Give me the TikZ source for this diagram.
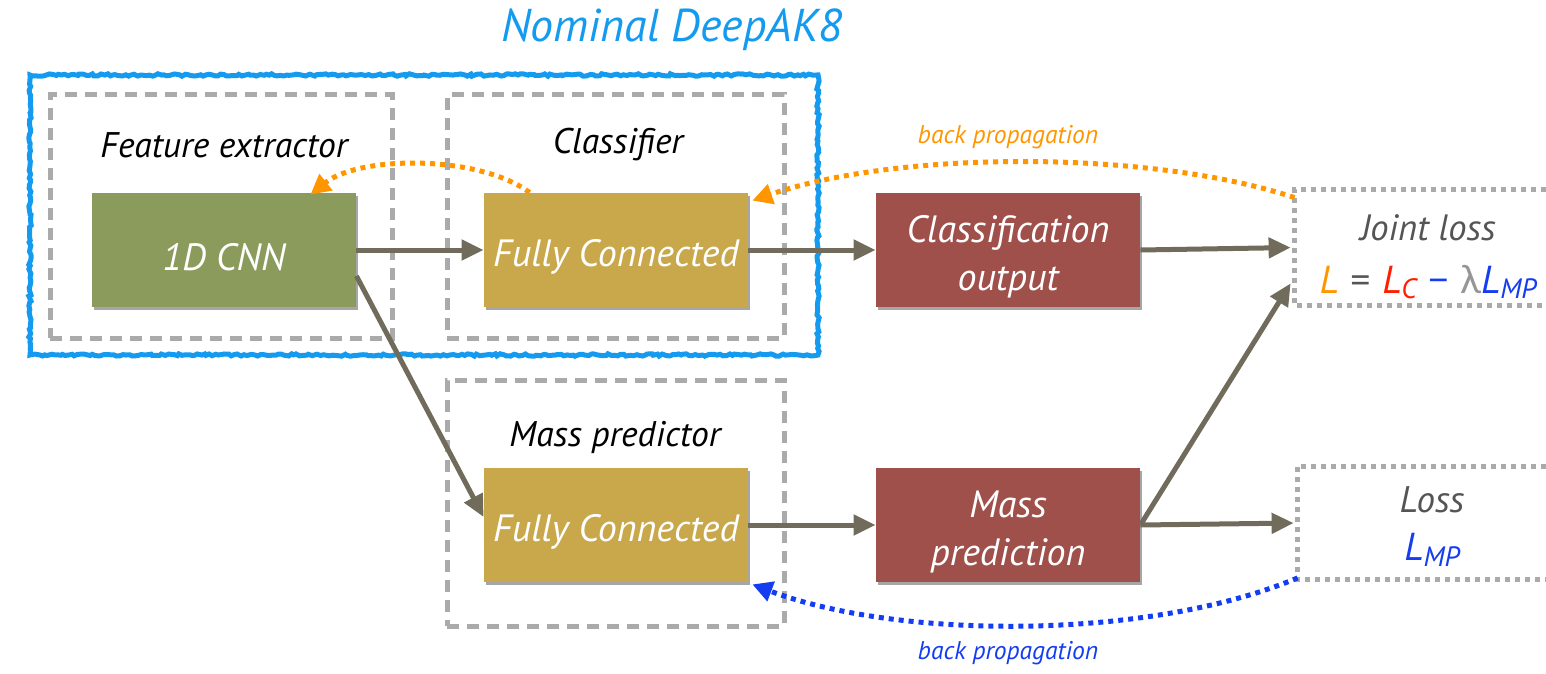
\documentclass[tikz,border=0pt]{standalone}
\usepackage{fontspec}
\setmainfont{PT Sans}
\newfontfamily\grk{Lato}
\usetikzlibrary{arrows.meta,calc,shadows,decorations.pathmorphing}
\definecolor{cnngreen}{RGB}{138,155,92}
\definecolor{fcgold}{RGB}{201,168,76}
\definecolor{outred}{RGB}{160,80,75}
\definecolor{arrowgray}{RGB}{112,107,90}
\definecolor{boxgray}{RGB}{170,170,170}
\definecolor{bporange}{RGB}{255,150,0}
\definecolor{bpblue}{RGB}{20,60,240}
\definecolor{titleblue}{RGB}{20,155,240}
\definecolor{lossred}{RGB}{255,30,0}
\definecolor{txtgray}{RGB}{85,85,85}
\definecolor{lamgray}{RGB}{150,150,150}
\newcommand{\lsub}[1]{\raisebox{-0.3ex}{\fontsize{14}{14}\selectfont #1}}
\begin{document}
\begin{tikzpicture}[x=0.5pt,y=-0.5pt,
 block/.style={minimum width=132pt,minimum height=57pt,inner sep=0pt,
   drop shadow={shadow xshift=1pt,shadow yshift=-1.5pt,opacity=0.35,fill=black}},
 blocktext/.style={text=white,font=\fontsize{19}{24}\selectfont\itshape,align=center,yshift=-3.5pt},
 grpbox/.style={draw=boxgray,line width=2.5pt,dash pattern=on 6pt off 4pt,inner sep=0pt},
 lossbox/.style={draw=boxgray,line width=2.5pt,dash pattern=on 2.5pt off 2.5pt},
 conn/.style={draw=arrowgray,line width=2.5pt,-{Triangle[length=11pt,width=10pt]}},
 bp/.style={line width=2.5pt,dash pattern=on 2.5pt off 2.5pt,-{Triangle[length=10pt,width=10pt]}},
 lbl/.style={font=\fontsize{17.8}{20}\selectfont\itshape},
 bplbl/.style={font=\fontsize{12.8}{15}\selectfont\itshape}
]
\useasboundingbox (0,0) rectangle (1546,674);

% title and nominal frame
\node[text=titleblue,font=\fontsize{23}{27}\selectfont\itshape] (title) at (672,30) {Nominal DeepAK8};
\node[draw=titleblue,line width=2.5pt,minimum width=394pt,minimum height=140pt,inner sep=0pt,
  decorate,decoration={random steps,segment length=1.5pt,amplitude=0.6pt}] (nominal) at (424,215) {};

% group boxes
\node[grpbox,minimum width=171pt,minimum height=121.5pt] (fegrp) at (221,216.5) {};
\node[grpbox,minimum width=168.5pt,minimum height=121.5pt] (clgrp) at (615.5,216.5) {};
\node[grpbox,minimum width=168.5pt,minimum height=123pt] (mpgrp) at (615.5,503) {};

\node[lbl] (fetext) at (224,145) {Feature extractor};
\node[lbl] (cltext) at (618,145) {Classifier};
\node[lbl] (mptext) at (615,437) {Mass predictor};

% blocks
\node[block,fill=cnngreen] (cnn) at (224,250) {};
\node[block,fill=fcgold] (fc1) at (616,250) {};
\node[block,fill=outred] (cout) at (1008,250) {};
\node[block,fill=fcgold] (fc2) at (616,525) {};
\node[block,fill=outred] (mpred) at (1008,525) {};
\node[blocktext] (cnnt) at (cnn) {1D CNN};
\node[blocktext] (fc1t) at (fc1) {Fully Connected};
\node[blocktext] (coutt) at (cout) {Classification\\output};
\node[blocktext] (fc2t) at (fc2) {Fully Connected};
\node[blocktext] (mpredt) at (mpred) {Mass\\prediction};

% loss boxes
\node[minimum width=125.5pt,minimum height=57.5pt,inner sep=0pt] (joint) at (1420.5,247.5) {};
\draw[lossbox] (joint.north east) -- (joint.north west) -- (joint.south west) -- (joint.south east);
\node[font=\fontsize{18.3}{20}\selectfont\itshape,text=txtgray] (jtext) at (1428,228) {Joint loss};
\node[font=\fontsize{19.5}{22}\selectfont\itshape] (jform) at (1428,282)
 {\textcolor{bporange}{L} \textcolor{txtgray}{{\grk\upshape =}} \textcolor{lossred}{L\lsub{C}} \textcolor{bpblue}{{\grk\upshape −}} \textcolor{lamgray}{{\grk\upshape λ}}\textcolor{bpblue}{L\lsub{MP}}};

\node[minimum width=124pt,minimum height=56.5pt,inner sep=0pt] (loss) at (1422,523) {};
\draw[lossbox] (loss.north east) -- (loss.north west) -- (loss.south west) -- (loss.south east);
\node[font=\fontsize{18.5}{20}\selectfont\itshape,text=txtgray] (ltext) at (1432,500) {Loss};
\node[font=\fontsize{19.5}{22}\selectfont\itshape,text=bpblue] (lform) at (1432,550) {L\lsub{MP}};

% connectors
\coordinate (j2) at ($(joint.south west)+(-4,-22)$);
\draw[conn] (cnn.east) -- (fc1.west);
\draw[conn] (fc1.east) -- (cout.west);
\draw[conn,shorten >=2pt] (cout.east) -- (joint.west);
\draw[conn] ($(cnn.east)+(0,26)$) -- ($(fc2.west)+(0,-8)$);
\draw[conn] (fc2.east) -- (mpred.west);
\draw[conn,shorten >=2pt] (mpred.east) -- (loss.west);
\draw[conn] (mpred.east) -- (j2);

% back propagation
\draw[bp,draw=bporange] ($(joint.north west)+(0,8)$) .. controls (1150,150) and (900,150) .. ($(fc1.north east)+(4,8)$);
\draw[bp,draw=bporange] ($(fc1.north west)+(46,0)$) .. controls (480,155) and (360,155) .. ($(cnn.north east)+(-46,2)$);
\draw[bp,draw=bpblue] ($(loss.south west)+(0,-2)$) .. controls (1150,640) and (900,640) .. ($(fc2.south east)+(4,2)$);
\node[bplbl,text=bporange] (bpl1) at (1008,137) {back propagation};
\node[bplbl,text=bpblue] (bpl2) at (1008,653) {back propagation};
\end{tikzpicture}
\end{document}
